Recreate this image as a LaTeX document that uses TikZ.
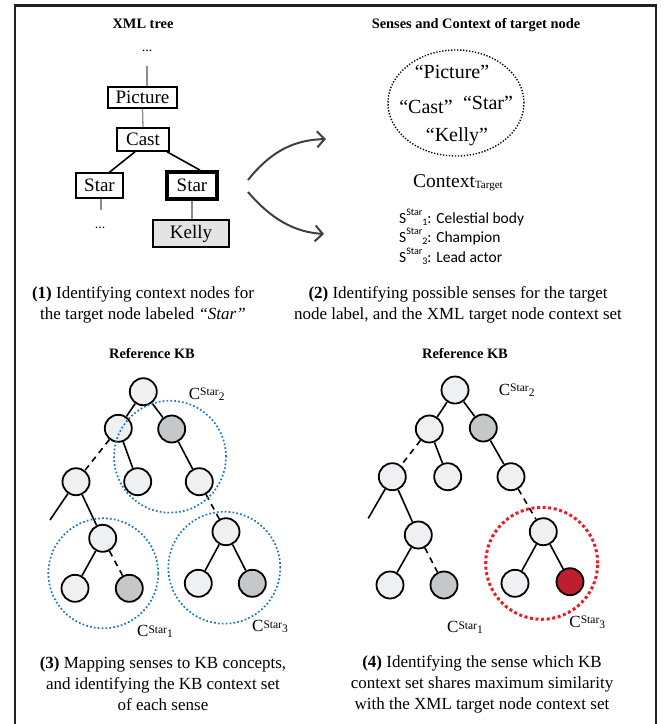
\documentclass[tikz,border=0pt]{standalone}
\usepackage{fontspec}
\setmainfont{Liberation Serif}
\newfontfamily\sensefont{Carlito}
\usetikzlibrary{arrows.meta,shapes.geometric}

\definecolor{framecol}{RGB}{35,31,32}
\definecolor{kblight}{RGB}{239,240,242}
\definecolor{kbshade}{RGB}{198,199,201}
\definecolor{kbhit}{RGB}{190,30,45}
\definecolor{ringblue}{RGB}{28,117,188}
\definecolor{ringred}{RGB}{237,28,36}
\definecolor{linegrey}{RGB}{140,140,140}
\definecolor{arrowgrey}{RGB}{64,64,64}
\definecolor{kellyfill}{RGB}{228,228,228}

\newcommand{\fsz}[2]{\fontsize{#1}{#2}\selectfont}
% C^{Star}_{n} label of a KB context set
\newcommand{\ctxlabel}[1]{{\fsz{17}{17}C}\raisebox{3.6pt}{\fsz{11.5}{11.5}Star}\raisebox{-1pt}{\fsz{11.5}{11.5}#1}}
% S^{Star}_{n} sense entry
\newcommand{\senselabel}[2]{{\sensefont S\raisebox{8pt}{\fsz{10}{10}Star}\raisebox{-2pt}{\fsz{10}{10}#1}: #2}}

\tikzset{
  xmlbox/.style={draw=black, line width=1.6pt, fill=white, inner sep=0pt, font=\fsz{19}{19}},
  kb/.style={circle, draw=black, line width=1.8pt, minimum size=27pt, inner sep=0pt, fill=kblight},
  kbdark/.style={kb, fill=kbshade},
  kbred/.style={kb, fill=kbhit},
  kbedge/.style={line width=1.6pt, black},
  kbdash/.style={kbedge, dash pattern=on 6pt off 5pt},
  greyline/.style={line width=1.3pt, linegrey},
  flowarrow/.style={line width=2pt, arrowgrey, -{Straight Barb[length=7.5pt,width=16pt,line width=2pt]}},
  bluering/.style={draw=ringblue, line width=1.7pt, dash pattern=on 1.7pt off 2.2pt},
  redring/.style={draw=ringred, line width=3pt, dash pattern=on 3pt off 2.6pt},
  headline/.style={font=\bfseries\fsz{14.4}{14.4}},
  captiontext/.style={align=center, font=\fsz{17}{21}},
  plain/.style={inner sep=0pt},
}

\begin{document}
\begin{tikzpicture}[x=1pt, y=-1pt]
\useasboundingbox (0,0) rectangle (669,724);

% outer frame (open at the bottom)
\draw[framecol, line width=2.4pt] (14.7,724) -- (14.7,5.4) -- (656,5.4) -- (656,724);

% ---------- panel 1: XML tree ----------
\node[headline] (t1) at (143,24) {XML tree};
\node[plain, anchor=base, font=\fsz{14}{14}] (dotsA) at (147,51) {...};
\coordinate (topEnd) at (147,66);
\node[xmlbox, minimum width=69pt, minimum height=21pt] (picture) at (142.5,97.5) {Picture};
\node[xmlbox, minimum width=52pt, minimum height=23pt] (cast) at (143,139.5) {Cast};
\node[xmlbox, minimum width=47pt, minimum height=25pt] (starA) at (99.5,185.5) {Star};
\node[xmlbox, minimum width=50pt, minimum height=27pt, line width=3.8pt] (starB) at (192,185.5) {Star};
\node[xmlbox, minimum width=76pt, minimum height=27pt, fill=kellyfill] (kelly) at (191,233.5) {Kelly};
\coordinate (leafEnd) at (101,210);
\node[plain, anchor=base, font=\fsz{14}{14}] (dotsB) at (100,228) {...};

\draw[greyline] (topEnd) -- (topEnd |- picture.north);
\draw[greyline] (picture.south) -- (cast.north);
\draw[kbedge] ([xshift=-8pt]cast.south) -- ([xshift=10pt]starA.north);
\draw[kbedge] ([xshift=24pt]cast.south) -- ([xshift=8pt]starB.north);
\draw[greyline] (starA.south -| leafEnd) -- (leafEnd);
\draw[greyline] (starB.south) -- (starB.south |- kelly.north);

\node[captiontext] (cap1) at (143,305) {\textbf{(1)} Identifying context nodes for\\the target node labeled \textit{``Star''}};

% arrows between panels 1 and 2
\coordinate (upStart) at (248,180);
\coordinate (upEnd) at (326,139);
\coordinate (dnStart) at (248,192);
\coordinate (dnEnd) at (324,234);
\draw[flowarrow] (upStart) .. controls (272,150) and (295,140) .. (upEnd);
\draw[flowarrow] (dnStart) .. controls (272,220) and (295,232) .. (dnEnd);

% ---------- panel 2: senses and context ----------
\node[headline] (t2) at (476,25) {Senses and Context of target node};
\node[ellipse, draw=black, line width=1.4pt, dash pattern=on 1.3pt off 1.7pt,
      minimum width=136pt, minimum height=106pt, inner sep=0pt] (ctxset) at (456,103) {};
\node[plain, font=\fsz{20}{20}] (wPicture) at (452,72) {“Picture”};
\node[plain, font=\fsz{20}{20}] (wCast) at (426,107) {“Cast”};
\node[plain, font=\fsz{20}{20}] (wStar) at (488,103) {“Star”};
\node[plain, font=\fsz{20}{20}] (wKelly) at (457,137) {“Kelly”};
\node[plain, anchor=base west] (ctxname) at (413,187) {\fsz{19.5}{19.5}Context\raisebox{-1pt}{\fsz{11}{11}Target}};

\node[plain, anchor=base west, font=\fsz{15.5}{15.5}] (sense1) at (399,223) {\senselabel{1}{Celestial body}};
\node[plain, anchor=base west, font=\fsz{15.5}{15.5}] (sense2) at (399,242.5) {\senselabel{2}{Champion}};
\node[plain, anchor=base west, font=\fsz{15.5}{15.5}] (sense3) at (399,262) {\senselabel{3}{Lead actor}};

\node[captiontext] (cap2) at (458,305) {\textbf{(2)} Identifying possible senses for the target\\node label, and the XML target node context set};

% ---------- panel 3: reference KB with all sense contexts ----------
\node[headline] (t3) at (152,353) {Reference KB};
\node[kb] (pR) at (143.3,391.7) {};
\node[kb] (pL) at (118.3,428.3) {};
\node[kbdark] (pM) at (171.7,429) {};
\node[kb] (pA) at (76,481.7) {};
\node[kb] (pB) at (137.7,481.7) {};
\node[kb] (pC) at (199.3,481.7) {};
\coordinate (pX) at (50,520);
\node[kb] (pD) at (102.7,538.3) {};
\node[kb] (pE) at (75,588.3) {};
\node[kbdark] (pF) at (129.3,588.3) {};
\node[kb] (pG) at (226,531.7) {};
\node[kb] (pH) at (198.3,583.3) {};
\node[kbdark] (pI) at (252.3,583.3) {};

\draw[kbedge] (pR) -- (pL);
\draw[kbedge] (pR) -- (pM);
\draw[kbdash] (pL) -- (pA);
\draw[kbedge] (pL) -- (pB);
\draw[kbedge] (pM) -- (pC);
\draw[kbedge] (pA) -- (pX);
\draw[kbedge] (pA) -- (pD);
\draw[kbedge] (pD) -- (pE);
\draw[kbdash] (pD) -- (pF);
\draw[kbdash] (pC) -- (pG);
\draw[kbedge] (pG) -- (pH);
\draw[kbedge] (pG) -- (pI);

\node[circle, bluering, minimum size=112pt, inner sep=0pt] (pS2) at (170,456.7) {};
\node[circle, bluering, minimum size=110pt, inner sep=0pt] (pS1) at (103.3,573.3) {};
\node[circle, bluering, minimum size=112pt, inner sep=0pt] (pS3) at (224.3,567.7) {};

\node[plain] (pC2) at (206.7,394) {\ctxlabel{2}};
\node[plain] (pC1) at (155,631.7) {\ctxlabel{1}};
\node[plain] (pC3) at (270,626.7) {\ctxlabel{3}};

\node[captiontext] (cap3) at (163,684) {\textbf{(3)} Mapping senses to KB concepts,\\and identifying the KB context set\\of each sense};

% ---------- panel 4: best matching sense ----------
\node[headline] (t4) at (465,353) {Reference KB};
\node[kb] (qR) at (455,390) {};
\node[kb] (qL) at (429.3,429) {};
\node[kbdark] (qM) at (483.3,428) {};
\node[kb] (qA) at (392.3,476.7) {};
\node[kb] (qB) at (447.7,476.7) {};
\node[kb] (qC) at (511,476.7) {};
\coordinate (qX) at (368.3,518.3);
\node[kb] (qD) at (418.3,535) {};
\node[kb] (qE) at (390,585) {};
\node[kbdark] (qF) at (444,585) {};
\node[kb] (qG) at (543.3,531.7) {};
\node[kb] (qH) at (515,583.3) {};
\node[kbred] (qI) at (570,581.7) {};

\draw[kbedge] (qR) -- (qL);
\draw[kbedge] (qR) -- (qM);
\draw[kbdash] (qL) -- (qA);
\draw[kbedge] (qL) -- (qB);
\draw[kbedge] (qM) -- (qC);
\draw[kbedge] (qA) -- (qX);
\draw[kbedge] (qA) -- (qD);
\draw[kbedge] (qD) -- (qE);
\draw[kbdash] (qD) -- (qF);
\draw[kbdash] (qC) -- (qG);
\draw[kbedge] (qG) -- (qH);
\draw[kbedge] (qG) -- (qI);

\node[circle, redring, minimum size=112pt, inner sep=0pt] (qS3) at (541.7,563.3) {};

\node[plain] (qC2) at (516.7,390) {\ctxlabel{2}};
\node[plain] (qC1) at (465,627.7) {\ctxlabel{1}};
\node[plain] (qC3) at (587.3,622.3) {\ctxlabel{3}};

\node[captiontext] (cap4) at (482,684) {\textbf{(4)} Identifying the sense which KB\\context set shares maximum similarity\\with the XML target node context set};
\end{tikzpicture}
\end{document}
